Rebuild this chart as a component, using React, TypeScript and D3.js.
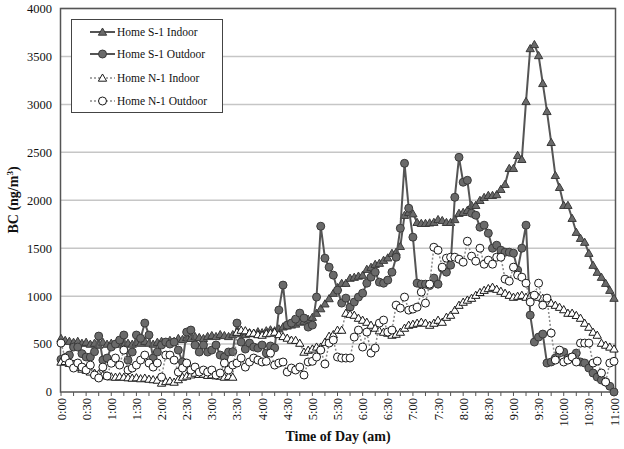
import React from "react";
import * as d3 from "d3";

const TICK_LABELS = ["0:00","0:30","1:00","1:30","2:00","2:30","3:00","3:30","4:00","4:30","5:00","5:30","6:00","6:30","7:00","7:30","8:00","8:30","9:00","9:30","10:00","10:30","11:00"];
const Y_TICKS = [0, 500, 1000, 1500, 2000, 2500, 3000, 3500, 4000];

// 5-minute readings, 0:00 .. 11:00 (133 points)
const S1_INDOOR = [
  560, 540, 530, 520, 530, 510, 520, 500, 510, 490, 520, 500,
  510, 500, 520, 490, 510, 500, 520, 510, 530, 510, 500, 520,
  530, 520, 540, 530, 560, 550, 570, 560, 580, 570, 560, 580,
  590, 580, 600, 590, 580, 600, 620, 610, 600, 620, 610, 630,
  620, 640, 650, 640, 660, 680, 690, 700, 710, 730, 740, 760,
  780, 823, 870, 920, 975, 1031, 1090, 1135, 1135, 1188, 1198, 1210,
  1219, 1281, 1302, 1333, 1344, 1375, 1400, 1448, 1460, 1520, 1844, 1875,
  1860, 1770, 1760, 1760, 1765, 1771, 1800, 1790, 1770, 1770, 1800, 1865,
  1875, 1896, 1948, 1948, 2000, 2031, 2052, 2052, 2060, 2115, 2167, 2333,
  2333, 2469, 2427, 3031, 3583, 3625, 3510, 3219, 2927, 2604, 2260, 2135,
  1948, 1948, 1812, 1667, 1604, 1563, 1448, 1323, 1250, 1198, 1135, 1062, 979,
];
const S1_OUTDOOR = [
  340, 360, 385, 469, 469, 400, 365, 365, 420, 583, 333, 354,
  469, 500, 542, 594, 333, 417, 594, 560, 719, 594, 354, 417,
  490, 521, 500, 521, 437, 313, 625, 646, 490, 417, 490, 417,
  437, 490, 385, 365, 417, 420, 719, 521, 448, 510, 469, 458,
  490, 406, 480, 460, 854, 1115, 698, 719, 760, 823, 771, 677,
  698, 990, 1729, 1396, 1302, 1219, 1062, 927, 979, 885, 938, 990,
  1031, 1135, 1198, 1250, 1146, 1135, 1167, 1250, 1406, 1708, 2385, 1917,
  1615, 1135, 1125, 1125, 1110, 1188, 1125, 1292, 1250, 1323, 2031, 2448,
  2188, 2208, 1865, 1844, 1719, 1740, 1656, 1500, 1531, 1479, 1458, 1458,
  1448, 1271, 1500, 1740, 802, 521, 573, 604, 302, 313, 354, 406,
  417, 354, 365, 406, 313, 302, 250, 198, 156, 125, 104, 60, 0,
];
const N1_INDOOR = [
  313, 320, 300, 290, 260, 240, 229, 210, 198, 190, 177, 170,
  160, 156, 160, 156, 150, 146, 150, 140, 146, 135, 130, 125,
  94, 110, 115, 104, 130, 156, 167, 180, 198, 185, 188, 175,
  180, 170, 167, 156, 165, 156, 625, 646, 640, 615, 615, 600,
  594, 610, 615, 625, 600, 580, 563, 542, 540, 510, 417, 437,
  450, 470, 470, 520, 583, 600, 646, 646, 823, 812, 802, 771,
  750, 729, 698, 667, 640, 625, 615, 594, 604, 625, 667, 698,
  708, 719, 729, 719, 698, 719, 750, 729, 781, 802, 854, 906,
  938, 960, 979, 1010, 1040, 1062, 1080, 1094, 1073, 1052, 1031, 1010,
  990, 1000, 1010, 990, 1000, 1010, 990, 979, 938, 927, 906, 885,
  860, 823, 823, 800, 771, 719, 677, 625, 594, 510, 490, 470, 450,
];
const N1_OUTDOOR = [
  510, 354, 302, 250, 302, 260, 229, 281, 177, 146, 260, 167,
  300, 354, 281, 437, 229, 250, 281, 333, 385, 302, 260, 302,
  156, 385, 385, 333, 208, 250, 302, 229, 260, 208, 229, 208,
  229, 177, 198, 302, 229, 281, 302, 354, 260, 313, 354, 333,
  313, 320, 406, 281, 302, 313, 208, 250, 229, 260, 177, 313,
  320, 365, 437, 292, 510, 542, 365, 354, 354, 354, 573, 646,
  469, 625, 406, 458, 719, 750, 625, 646, 906, 875, 990, 854,
  865, 885, 1042, 927, 1125, 1510, 1479, 1302, 1396, 1406, 1406, 1385,
  1354, 1573, 1417, 1365, 1500, 1333, 1375, 1333, 1406, 1406, 1177, 1156,
  1302, 1219, 1198, 1135, 938, 1010, 1135, 906, 979, 615, 333, 437,
  313, 333, 365, 313, 510, 510, 510, 302, 323, 198, 104, 302, 320,
];

const SERIES = [
  { name: "Home S-1 Indoor", values: S1_INDOOR, marker: "triangle", filled: true },
  { name: "Home S-1 Outdoor", values: S1_OUTDOOR, marker: "circle", filled: true },
  { name: "Home N-1 Indoor", values: N1_INDOOR, marker: "triangle", filled: false },
  { name: "Home N-1 Outdoor", values: N1_OUTDOOR, marker: "circle", filled: false },
];

const W = 624, H = 449;
const L = 60.5, R = 615.5, T = 8.5, B = 392;
const FONT = "'Liberation Serif', 'Times New Roman', serif";

function Marker({ x, y, s }: { x: number; y: number; s: any }) {
  const fill = s.filled ? "#6a6a6a" : "#ffffff";
  const stroke = s.filled ? "#3a3a3a" : "#1a1a1a";
  if (s.marker === "circle") {
    return <circle cx={x} cy={y} r={4} fill={fill} stroke={stroke} strokeWidth={1} />;
  }
  const p = d3.symbol().type(d3.symbolTriangle).size(30)();
  return <path d={p as string} transform={`translate(${x},${y + 0.8})`} fill={fill} stroke={stroke} strokeWidth={1} />;
}

export default function App() {
  const minutes = S1_INDOOR.map((_, i) => i * 5);
  const x = d3.scaleLinear().domain([0, 660]).range([61, 614]);
  const y = d3.scaleLinear().domain([0, 4000]).range([B, T]);
  const tickMinutes = d3.range(0, 661, 15);

  const line = (vals: number[]) =>
    d3.line<number>().x((_, i) => x(minutes[i])).y((v) => y(v))(vals) as string;

  return (
    <svg width={W} height={H} style={{ position: "absolute", left: 0, top: 0, background: "#fff" }} fontFamily={FONT}>
      <rect x={0} y={0} width={W} height={H} fill="#fff" />
      {Y_TICKS.filter((t) => t > 0).map((t) => (
        <line key={t} x1={L} x2={R} y1={y(t)} y2={y(t)} stroke="#c6c6c6" strokeWidth={1.5} />
      ))}
      <rect x={L} y={T} width={R - L} height={B - T} fill="none" stroke="#555" strokeWidth={1.5} />
      {Y_TICKS.map((t) => (
        <text key={t} x={52} y={y(t)} dy="0.35em" textAnchor="end" fontSize={12.5} fill="#111">{t}</text>
      ))}
      {tickMinutes.map((m) => (
        <line key={m} x1={x(m)} x2={x(m)} y1={B} y2={B + 4} stroke="#555" strokeWidth={1} />
      ))}
      {TICK_LABELS.map((lab, i) => (
        <text key={lab} transform={`translate(${x(i * 30) + 4.5},${B + 6}) rotate(-90)`} textAnchor="end" fontSize={12.5} fill="#111">{lab}</text>
      ))}
      <text x={338} y={441} textAnchor="middle" fontSize={14} fontWeight="bold" fill="#111">Time of Day (am)</text>
      <text transform={`translate(18,200) rotate(-90)`} textAnchor="middle" fontSize={14} fontWeight="bold" fill="#111">
        BC (ng/m<tspan dy={-5} fontSize={9}>3</tspan><tspan dy={5}>)</tspan>
      </text>
      {SERIES.map((s) => (
        <g key={s.name}>
          <path d={line(s.values)} fill="none" stroke={s.filled ? "#555" : "#8a8a8a"} strokeWidth={s.filled ? 2 : 1.5} strokeDasharray={s.filled ? undefined : "2,2"} />
          {s.values.map((v, i) => (
            <Marker key={i} x={x(minutes[i])} y={y(v)} s={s} />
          ))}
        </g>
      ))}
      <rect x={71.5} y={19.5} width={151} height={93} fill="#fff" stroke="#444" strokeWidth={1} />
      {SERIES.map((s, i) => {
        const ly = [32, 54, 78, 101][i];
        return (
          <g key={s.name}>
            <line x1={90} x2={115} y1={ly} y2={ly} stroke={s.filled ? "#555" : "#8a8a8a"} strokeWidth={s.filled ? 2 : 1.5} strokeDasharray={s.filled ? undefined : "2,2"} />
            <Marker x={102.5} y={ly} s={s} />
            <text x={117} y={ly} dy="0.35em" fontSize={11.5} fill="#111">{s.name}</text>
          </g>
        );
      })}
    </svg>
  );
}
